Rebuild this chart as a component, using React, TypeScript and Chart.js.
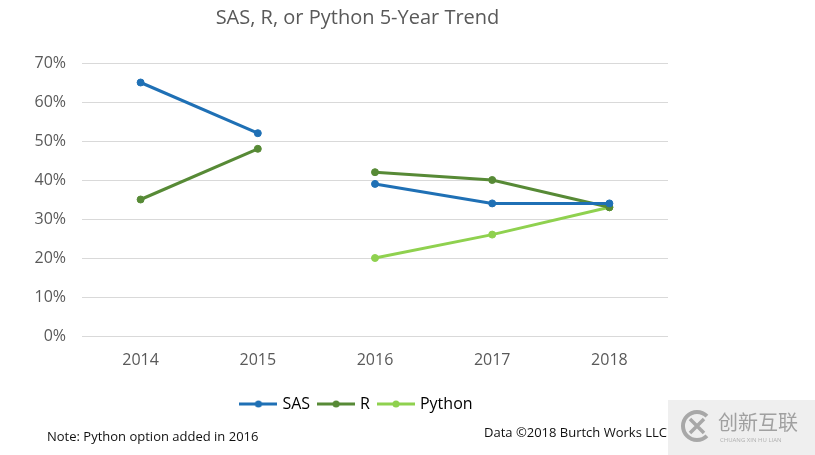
import React, { useEffect, useRef } from "react";
import { Chart, registerables } from "chart.js";

Chart.register(...registerables);

const categories = ["2014", "2015", "2016", "2017", "2018"];
const sasValues = [65, 52, 39, 34, 34];
const rValues = [35, 48, 42, 40, 33];
const pythonValues: (number | null)[] = [null, null, 20, 26, 33];
const seriesNames = ["SAS", "R", "Python"];
const seriesColors = ["#1f70b5", "#578a36", "#8fd14f"];
const gapAfterIndex = 1; // lines are not joined between 2015 and 2016
const yMax = 70;
const yStep = 10;
const titleText = "SAS, R, or Python 5-Year Trend";
const noteText = "Note: Python option added in 2016";
const sourceText = "Data ©2018 Burtch Works LLC";
const watermarkText = "创新互联";
const watermarkSub = "CHUANG XIN HU LIAN";

const FONT = "'Open Sans', 'Noto Sans', sans-serif";

function legendIcon(color: string) {
  const c = document.createElement("canvas");
  c.width = 38;
  c.height = 10;
  const ctx = c.getContext("2d")!;
  ctx.strokeStyle = color;
  ctx.lineWidth = 3;
  ctx.beginPath();
  ctx.moveTo(0, 5);
  ctx.lineTo(38, 5);
  ctx.stroke();
  ctx.fillStyle = color;
  ctx.beginPath();
  ctx.arc(19, 5, 3.5, 0, Math.PI * 2);
  ctx.fill();
  return c;
}

const footerPlugin = {
  id: "footer",
  afterDraw(chart: any) {
    const ctx = chart.ctx as CanvasRenderingContext2D;
    ctx.save();
    ctx.fillStyle = "#111";
    ctx.textBaseline = "middle";
    ctx.font = `13px ${FONT}`;
    ctx.textAlign = "left";
    ctx.fillText(noteText, 47, 437);
    ctx.textAlign = "right";
    ctx.fillText(sourceText, 667, 433);
    // watermark
    ctx.fillStyle = "#efefef";
    ctx.fillRect(668, 400, 147, 55);
    ctx.strokeStyle = "#a8a8a8";
    ctx.lineWidth = 4;
    ctx.beginPath();
    ctx.arc(697, 426, 14, Math.PI * 0.25, Math.PI * 1.75);
    ctx.stroke();
    ctx.lineWidth = 3.5;
    ctx.beginPath();
    ctx.moveTo(690, 419);
    ctx.lineTo(704, 433);
    ctx.moveTo(704, 419);
    ctx.lineTo(690, 433);
    ctx.stroke();
    ctx.fillStyle = "#a0a0a0";
    ctx.textAlign = "left";
    ctx.font = `20px 'Noto Sans CJK SC', sans-serif`;
    ctx.fillText(watermarkText, 718, 422);
    ctx.font = `6px ${FONT}`;
    ctx.fillStyle = "#b0b0b0";
    ctx.fillText(watermarkSub, 720, 440);
    ctx.restore();
  },
};

export default function App() {
  const ref = useRef<HTMLCanvasElement | null>(null);

  useEffect(() => {
    document.body.style.margin = "0";
    const seriesData = [sasValues, rValues, pythonValues];
    const datasets = seriesNames.map((name, i) => ({
      label: name,
      data: seriesData[i],
      borderColor: seriesColors[i],
      backgroundColor: seriesColors[i],
      pointBackgroundColor: seriesColors[i],
      pointBorderColor: seriesColors[i],
      pointRadius: 3.5,
      pointBorderWidth: 1,
      borderWidth: 3,
      tension: 0,
      spanGaps: false,
      yAxisID: "y",
      segment: {
        borderColor: (c: any) => (c.p0DataIndex === gapAfterIndex ? "rgba(0,0,0,0)" : seriesColors[i]),
      },
    }));
    const chart = new Chart(ref.current!, {
      type: "line",
      data: { labels: categories, datasets },
      options: {
        animation: false,
        responsive: false,
        layout: { padding: { left: 0, right: 100, top: 0, bottom: 33 } },
        plugins: {
          title: {
            display: true,
            text: titleText,
            color: "#595959",
            font: { family: FONT, size: 20, weight: "normal" as any },
            padding: { top: 6, bottom: 33 },
          },
          legend: {
            position: "bottom",
            labels: {
              usePointStyle: true,
              pointStyleWidth: 32,
              color: "#404040",
              font: { family: FONT, size: 16 },
              padding: 10,
              generateLabels: () =>
                seriesNames.map((n, i) => ({
                  text: n,
                  pointStyle: legendIcon(seriesColors[i]),
                  fillStyle: seriesColors[i],
                  strokeStyle: seriesColors[i],
                  lineWidth: 0,
                  datasetIndex: i,
                  hidden: false,
                })) as any,
            },
          },
          tooltip: { enabled: false },
        },
        scales: {
          x: {
            offset: true,
            grid: { display: false, drawTicks: false, offset: true },
            border: { display: false },
            ticks: { color: "#595959", font: { family: FONT, size: 16 }, padding: 15 },
            afterFit: (s: any) => {
              s.height = 50;
            },
          },
          y: {
            min: 0,
            max: yMax,
            grid: { color: "#d9d9d9", lineWidth: 1, drawTicks: false },
            border: { display: false },
            ticks: {
              stepSize: yStep,
              color: "#595959",
              font: { family: FONT, size: 16 },
              padding: 16,
              callback: (v: any) => v + "%",
            },
            afterFit: (s: any) => {
              s.width = 82;
            },
          },
          y2: {
            position: "right",
            display: true,
            grid: { display: false, drawTicks: false },
            border: { display: false },
            ticks: { display: false },
            afterFit: (s: any) => {
              s.width = 47;
            },
          },
        },
      },
      plugins: [footerPlugin],
    });
    return () => chart.destroy();
  }, []);

  return (
    <div style={{ width: 815, height: 455, background: "#fff" }}>
      <canvas ref={ref} width={815} height={455} style={{ display: "block" }} />
    </div>
  );
}
